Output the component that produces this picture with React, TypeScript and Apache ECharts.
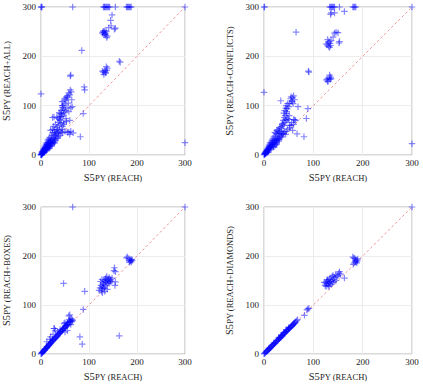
import React, { useEffect, useRef } from "react";
import * as echarts from "echarts";

const tickValues = [0, 100, 200, 300];
const xAxisName = "PY (REACH)";
const yAxisNames = ["PY (REACH+ALL)", "PY (REACH+CONFLICTS)", "PY (REACH+BOXES)", "PY (REACH+DIAMONDS)"];

const allPoints = [
  [0,300],[1,300],[2,300],[66,300],[130,300],[132,300],[133,300],[135,300],[137,300],[139,300],[141,300],[143,300],[155,300],[178,300],[180,300],[182,300],[184,300],[186,300],[188,300],[300,300],
  [0,124],[300,25],
  [148,284],[145,273],[141,258],[146,262],[155,257],[153,255],[130,251],[132,248],[134,246],[136,250],[128,247],[131,244],[133,252],[135,243],[138,241],[137,238],[129,249],
  [85,212],[163,190],[165,188],[128,170],[130,168],[133,171],[135,166],[137,172],[131,163],[136,179],[138,176],[134,168],
  [61,160],[62,162],[91,132],[90,138],
  [61,132],[63,128],[58,126],[60,122],[56,120],[55,116],[52,112],[50,115],[48,110],[46,100],[44,108],[50,103],[64,112],[65,98],[62,96],[54,95],[58,88],[47,92],[49,86],[42,90],[40,84],[44,78],[38,76],[35,74],[33,77],[27,77],[24,76],[40,70],[47,81],[88,84],[52,74],[60,70],[30,62],[26,58],[24,52],[20,50],[28,50],[34,52],[38,60],[42,64],[45,58],[32,45],[24,45],[36,44],[45,45],[55,46],[60,42],[67,45],[82,37],[40,40],[30,38],[22,40],[18,36],[16,32],[14,30],[20,28],[25,32],[30,30],[35,34],[12,25],[10,22],[15,20],[18,22],[22,24],[26,28],[28,26],[8,18],[6,14],[9,12],[12,15],[14,18],[16,16],[20,20],[24,22],[4,10],[5,8],[7,9],[3,5],[2,4],[1,2],[0,1],[0,0],[1,1],[2,2],[3,3],[4,4],[5,5],[6,7],[8,9],[10,11],[11,13],[13,14],[17,17],[19,19],[23,24],[33,35],[10,16],[12,20],[16,26],[18,14],[28,24],[6,5],
  [53,118],[57,105],[45,96],[51,90],[43,84],[39,72],[36,66],[41,78],[48,66],[33,56],[29,46],[27,40],[21,34],[19,30],[17,26],[15,24],[13,22],[11,18],[9,15],[7,12],[5,10],[3,7],[2,6],[4,7],[6,10],[8,13],[10,14],[14,21],[19,25],[23,30],[27,36],[31,42],[35,48],[39,50],[43,52],[50,48],[58,46],[62,48],[21,18],[25,26],[29,33],[37,38],[42,46],[15,13],[11,9],[7,6],[3,2],[1,0],[13,11],[47,62],[53,68],[38,86],[44,100]
];

const conflictsPoints = [
  [0,300],[1,300],[133,300],[135,300],[137,300],[139,300],[141,300],[143,300],[153,300],[180,300],[182,300],[184,300],[186,300],[300,300],
  [135,285],[136,288],[143,288],[163,291],[0,127],[300,23],[65,249],
  [126,225],[128,223],[130,227],[132,230],[134,226],[136,232],[129,234],[131,220],[133,218],[135,222],[140,239],[143,247],[146,249],[150,248],[153,230],[152,227],
  [90,170],[91,168],[126,152],[128,154],[130,150],[132,156],[134,153],[136,155],[133,162],[135,158],[129,149],
  [34,110],[55,118],[58,116],[60,120],[62,112],[56,110],[52,105],[48,104],[50,98],[45,100],[44,95],[42,90],[40,85],[46,88],[69,98],[89,94],[86,74],[62,71],[60,72],[50,72],[48,74],[46,70],[44,72],[42,66],[40,60],[38,64],[36,58],[32,56],[30,52],[28,48],[26,50],[24,44],[22,46],[30,44],[35,45],[40,44],[45,48],[52,55],[55,60],[58,50],[67,43],[81,37],[20,38],[18,34],[16,30],[14,26],[12,24],[10,20],[20,26],[24,30],[28,32],[32,36],[36,38],[18,20],[22,22],[26,25],[15,17],[12,14],[10,12],[8,10],[6,8],[5,6],[4,5],[3,4],[2,3],[1,2],[0,0],[1,1],[2,2],[3,3],[6,12],[8,16],[12,18],[16,22],[38,42],[44,42],[30,28],[26,22],[20,16],[14,12],[9,6],
  [54,114],[57,108],[47,94],[43,80],[41,76],[39,70],[37,62],[34,54],[31,48],[27,42],[25,38],[23,34],[21,30],[19,28],[17,25],[13,20],[11,16],[9,13],[7,11],[5,9],[4,7],[3,6],[2,4],[7,9],[11,14],[13,16],[17,21],[21,24],[25,28],[29,34],[33,40],[37,44],[41,48],[48,52],[52,60],[56,66],[60,62],[64,70],[19,17],[23,20],[27,30],[31,32],[35,36],[11,10],[7,5],[4,3],[46,84],[51,80],[59,104]
];

const boxesPoints = [
  [0,0],[1,1],[2,2],[2,3],[3,3],[4,4],[4,5],[5,6],[6,6],[7,8],[8,8],[8,10],[9,10],[10,11],[11,12],[12,13],[12,15],[13,14],[14,15],[15,17],[16,17],[16,20],[17,18],[18,20],[19,21],[20,22],[20,25],[21,23],[22,24],[23,26],[24,25],[24,29],[25,28],[26,28],[27,30],[28,32],[28,52],[29,31],[30,33],[30,48],[31,34],[32,36],[33,35],[34,38],[35,37],[35,45],[36,40],[37,41],[38,42],[39,43],[40,44],[40,50],[41,45],[42,46],[43,48],[44,47],[45,52],[45,49],[46,50],[47,52],[48,53],[48,62],[49,55],[50,54],[50,64],[51,56],[52,58],[53,57],[54,60],[55,62],[55,58],[56,64],[57,60],[58,66],[58,78],[59,70],[60,65],[60,80],[61,68],[62,67],[63,72],[64,66],[65,70],[66,68],[12,25],[20,35],[25,40],[27,52],[18,30],[62,60],[55,48],[50,45],
  [121,130],[123,135],[125,140],[126,128],[127,133],[128,138],[129,145],[130,136],[130,142],[131,150],[132,134],[133,148],[134,152],[135,140],[135,155],[136,146],[137,158],[138,150],[139,144],[140,153],[141,148],[142,156],[143,145],[144,150],[145,152],[146,148],[148,155],[128,125],[133,128],[138,132],[124,148],[127,152],
  [154,140],[155,147],[152,170],[153,176],[155,168],[180,198],[183,195],[178,196],[188,188],[186,192],[185,190],[184,187],[190,191],[187,190],[189,193],
  [47,144],[91,128],[88,91],[81,35],[86,20],[163,37],[66,300],[300,300]
];

const diamondsPoints = [
  [0,0],[1,1],[2,2],[3,3],[4,4],[5,5],[6,6],[7,7],[8,8],[9,9],[10,10],[11,11],[12,12],[13,13],[14,14],[15,15],[16,16],[17,18],[18,18],[19,19],[20,21],[21,21],[22,22],[23,23],[24,25],[25,25],[26,26],[27,28],[28,28],[29,29],[30,31],[31,31],[32,33],[33,33],[34,35],[35,35],[36,37],[37,37],[38,39],[39,40],[40,41],[41,42],[42,43],[43,44],[44,45],[45,46],[46,47],[47,48],[48,49],[49,50],[50,51],[51,52],[52,53],[53,54],[54,55],[55,56],[56,57],[57,58],[58,59],[59,60],[60,61],[61,62],[62,63],[63,64],[64,66],[66,68],[68,70],[30,34],[40,44],[20,23],[10,12],[50,54],[45,50],[35,38],
  [124,140],[125,145],[126,138],[127,148],[128,143],[129,150],[130,140],[131,146],[132,152],[133,144],[134,155],[135,148],[136,142],[137,150],[138,158],[139,146],[140,160],[141,152],[142,148],[143,156],[145,162],[146,150],[148,158],[150,160],[152,165],[153,168],[155,163],[132,138],[128,152],[122,146],
  [163,155],[180,198],[182,196],[184,195],[185,190],[186,188],[187,192],[188,186],[189,190],[190,194],[181,183],[183,186],
  [89,92],[87,90],[91,93],[82,79],[300,300]
];

const diagonal = [[0, 0], [300, 300]];
const panels = [allPoints, conflictsPoints, boxesPoints, diamondsPoints];

const FONT = "'Liberation Serif', 'Times New Roman', serif";
const richName = {
  a: { fontFamily: FONT, fontSize: 10.5, color: "#222" },
  b: { fontFamily: FONT, fontSize: 8.5, color: "#222" },
};

export default function App() {
  const ref = useRef<HTMLDivElement>(null);
  useEffect(() => {
    if (!ref.current) return;
    const chart = echarts.init(ref.current, null, { renderer: "svg" });
    const grids = [
      { left: 37, top: 7, width: 148, height: 148 },
      { left: 264, top: 7, width: 148, height: 148 },
      { left: 37, top: 207, width: 148, height: 147 },
      { left: 264, top: 207, width: 148, height: 147 },
    ].map((g) => ({ ...g, show: true, borderColor: "#b4b4b4", borderWidth: 1, backgroundColor: "transparent" }));

    const axisCommon = {
      type: "value" as const,
      min: tickValues[0],
      max: tickValues[tickValues.length - 1],
      interval: 100,
      axisLine: { show: false },
      axisTick: { show: false },
      splitLine: { show: true, lineStyle: { color: "#ececec", width: 1 } },
      nameLocation: "middle" as const,
      nameTextStyle: { fontFamily: FONT, rich: richName },
    };

    const xAxis = panels.map((_, i) => ({
      ...axisCommon,
      gridIndex: i,
      name: "{a|S5}{b|" + xAxisName + "}",
      nameGap: 17,
      axisLabel: { fontFamily: FONT, fontSize: 9, color: "#222", margin: 3 },
    }));
    const yAxis = panels.map((_, i) => ({
      ...axisCommon,
      gridIndex: i,
      name: "{a|S5}{b|" + yAxisNames[i] + "}",
      nameGap: 29,
      axisLabel: { fontFamily: FONT, fontSize: 9, color: "#222", margin: 5 },
    }));

    const series: any[] = [];
    panels.forEach((pts, i) => {
      series.push({
        type: "line",
        xAxisIndex: i,
        yAxisIndex: i,
        data: diagonal,
        symbol: "none",
        silent: true,
        z: 1,
        lineStyle: { color: "rgba(240,110,110,0.75)", width: 1, type: [2.5, 2.5] },
      });
      series.push({
        type: "scatter",
        xAxisIndex: i,
        yAxisIndex: i,
        data: pts,
        clip: false,
        z: 2,
        symbol: "path://M5,0L5,10M0,5L10,5",
        symbolSize: 6.5,
        itemStyle: { color: "rgba(0,0,255,0)", borderColor: "rgba(0,0,255,0.6)", borderWidth: 1.2 },
      });
    });

    chart.setOption({
      animation: false,
      textStyle: { fontFamily: FONT },
      grid: grids,
      xAxis,
      yAxis,
      series,
    });
    return () => chart.dispose();
  }, []);
  return (
    <div
      ref={ref}
      style={{ position: "absolute", left: 0, top: 0, width: 423, height: 386, background: "#fff" }}
    />
  );
}
